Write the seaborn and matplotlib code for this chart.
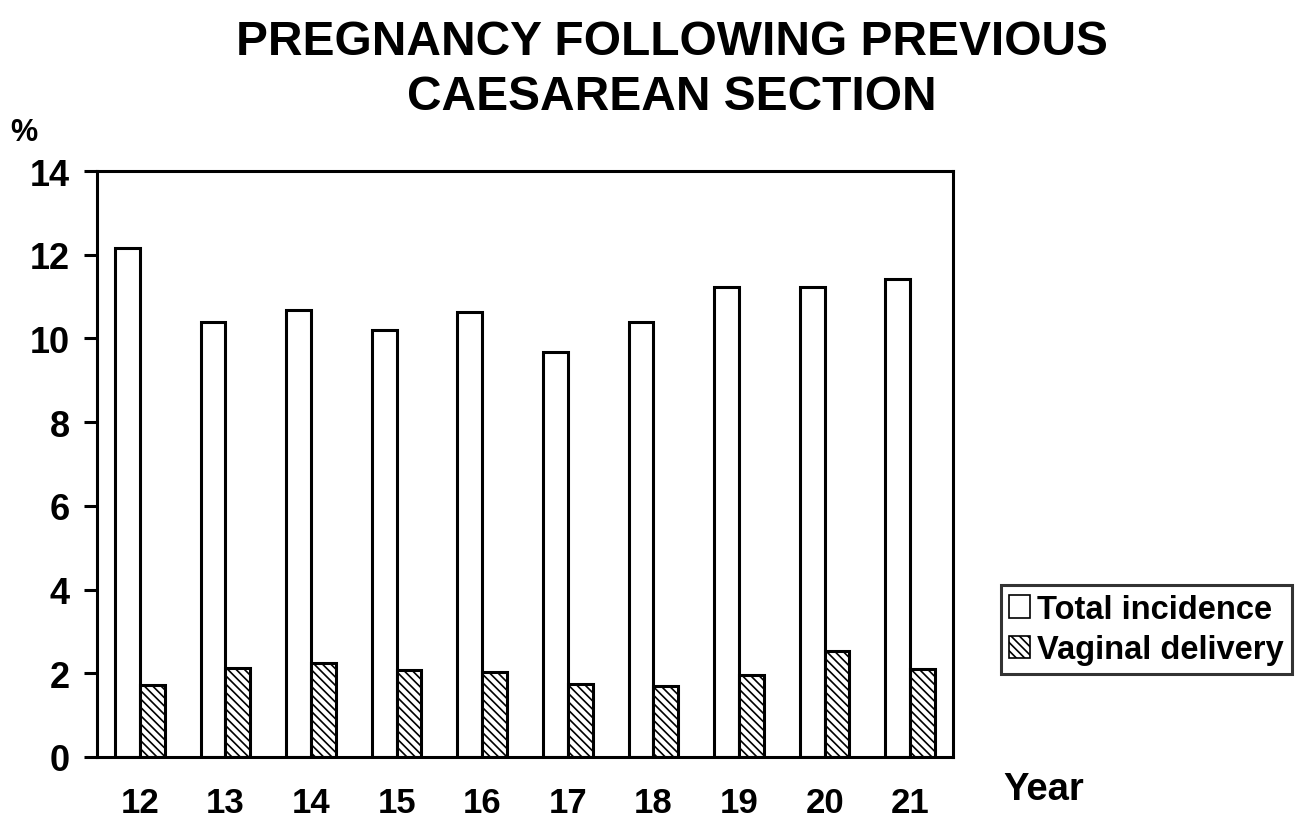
import matplotlib
matplotlib.use('Agg')
import matplotlib.pyplot as plt
import matplotlib.patches as mpatches
import pandas as pd
import seaborn as sns

years = ['12', '13', '14', '15', '16', '17', '18', '19', '20', '21']
total_incidence = [12.16, 10.39, 10.69, 10.2, 10.62, 9.68, 10.4, 11.22, 11.22, 11.42]
vaginal_delivery = [1.73, 2.13, 2.25, 2.08, 2.02, 1.75, 1.7, 1.95, 2.53, 2.09]
series_names = ['Total incidence', 'Vaginal delivery']

df = pd.DataFrame({
    'year': years * 2,
    'value': total_incidence + vaginal_delivery,
    'series': [series_names[0]] * len(years) + [series_names[1]] * len(years),
})

sns.set_style('white')
plt.rcParams['font.family'] = ['Liberation Sans', 'DejaVu Sans']
plt.rcParams['font.weight'] = 'bold'
plt.rcParams['text.color'] = 'black'
plt.rcParams['xtick.color'] = 'black'
plt.rcParams['ytick.color'] = 'black'
plt.rcParams['hatch.linewidth'] = 1.2

fig = plt.figure(figsize=(13, 8.29), dpi=100)
ax = fig.add_axes([0.0746, 0.0857, 0.6585, 0.7068])

sns.barplot(data=df, x='year', y='value', hue='series', order=years,
            hue_order=series_names, palette=['white', 'white'],
            width=0.58, edgecolor='black', linewidth=2.2, saturation=1,
            legend=False, ax=ax)

# hatch the second series
n = len(years)
for p in ax.patches[n:2 * n]:
    p.set_hatch('\\\\\\\\')

ax.set_ylim(0, 14)
ax.set_xlim(-0.5, n - 0.5)
ax.set_yticks(range(0, 15, 2))
ax.set_xlabel('')
ax.set_ylabel('')
for s in ax.spines.values():
    s.set_visible(True)
    s.set_color('black')
    s.set_linewidth(2.2)
ax.tick_params(axis='y', direction='out', length=9.5, width=2.2, pad=10,
               labelsize=26, left=True, labelcolor='black')
ax.tick_params(axis='x', length=0, pad=21, labelsize=25, labelcolor='black')
for lbl in ax.get_xticklabels() + ax.get_yticklabels():
    lbl.set_fontweight('bold')

fig.text(0.517, 0.949, 'PREGNANCY FOLLOWING PREVIOUS', ha='center', va='center',
         fontsize=34.5, fontweight='bold')
fig.text(0.517, 0.882, 'CAESAREAN SECTION', ha='center', va='center',
         fontsize=34.5, fontweight='bold')
fig.text(0.008, 0.84, '%', ha='left', va='center', fontsize=22, fontweight='bold')
fig.text(0.772, 0.047, 'Year', ha='left', va='center', fontsize=27.5, fontweight='bold')

handles = [
    mpatches.Patch(facecolor='white', edgecolor='black', linewidth=1.2, label=series_names[0]),
    mpatches.Patch(facecolor='white', edgecolor='black', linewidth=1.2, hatch='\\\\\\\\',
                   label=series_names[1]),
]
leg = fig.legend(handles=handles, loc='center left', bbox_to_anchor=(0.770, 0.2394),
                 frameon=True, fancybox=False, edgecolor='black', fontsize=23.5,
                 handlelength=0.65, handleheight=0.7, handletextpad=0.2,
                 borderpad=0.25, labelspacing=0.3, borderaxespad=0)
leg.get_frame().set_linewidth(2.2)
for t in leg.get_texts():
    t.set_fontweight('bold')
    t.set_color('black')

fig.savefig('out.png', dpi=100, facecolor='white')
